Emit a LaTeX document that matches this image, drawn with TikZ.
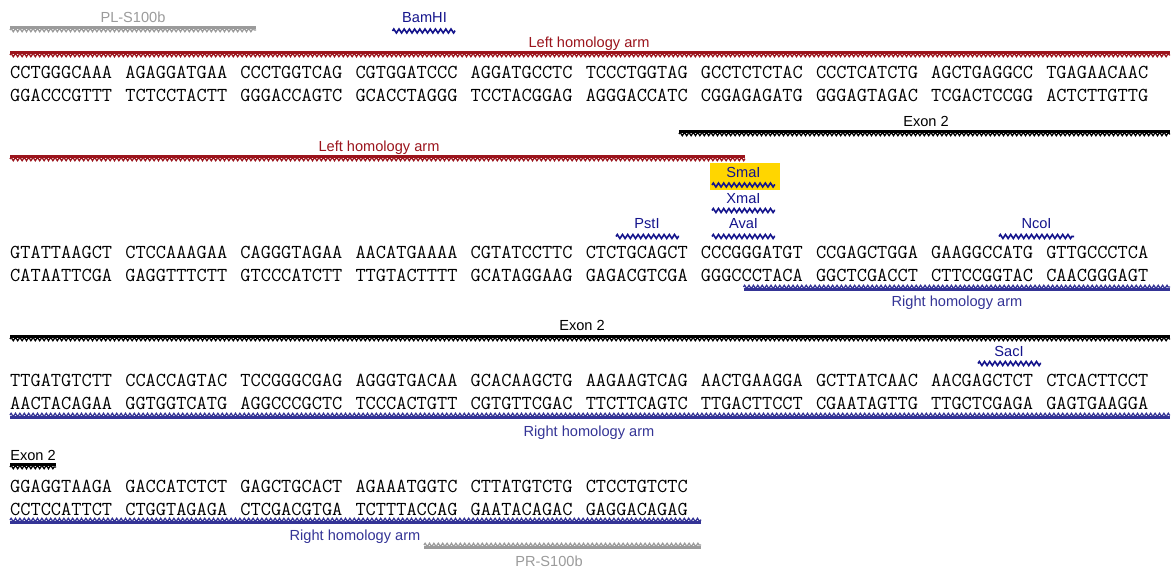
\documentclass[tikz,border=0pt]{standalone}
\usepackage{fontspec}
\setsansfont{Liberation Sans}
\usetikzlibrary{decorations.pathmorphing}
\definecolor{armred}{RGB}{155,20,28}
\definecolor{armblue}{RGB}{52,52,150}
\definecolor{enzblue}{RGB}{20,20,140}
\definecolor{primergray}{RGB}{155,155,155}
\definecolor{hilite}{RGB}{255,214,0}
\newcommand{\sgap}{\hspace{13.15pt}}
\tikzset{
  seq/.style={anchor=base west, inner sep=0pt, font=\fontsize{19.8}{22}\selectfont\ttfamily},
  lbl/.style={anchor=base, inner sep=0pt, font=\fontsize{14.6}{16}\selectfont\sffamily},
  bar/.style={line width=3pt},
  teeth/.style={decorate, decoration={zigzag, segment length=4.4pt, amplitude=1.7pt}, line width=1.3pt},
  cut/.style={enzblue, decorate, decoration={zigzag, segment length=5.2pt, amplitude=2pt}, line width=1.6pt}
}
\begin{document}
\begin{tikzpicture}[x=1pt, y=-1pt]
  \useasboundingbox (0,0) rectangle (1176,569);
  \fill[white] (0,0) rectangle (1176,569);

  % block 1
  \draw[primergray, bar] (10,27.5) -- (256,27.5);
  \draw[primergray, teeth] (10,30) -- (256,30);
  \node[lbl, primergray] (plS) at (133,23) {PL-S100b};
  \draw[cut] (392.5,31) -- (455,31);
  \node[lbl, enzblue] (bamhi) at (424.5,23) {BamHI};
  \draw[armred, bar] (10,52.5) -- (1170,52.5);
  \draw[armred, teeth] (10,55) -- (1170,55);
  \node[lbl, armred] (larmA) at (589,48) {Left homology arm};
  \node[seq] (topA) at (10,79) {CCTGGGCAAA\sgap AGAGGATGAA\sgap CCCTGGTCAG\sgap CGTGGATCCC\sgap AGGATGCCTC\sgap TCCCTGGTAG\sgap GCCTCTCTAC\sgap CCCTCATCTG\sgap AGCTGAGGCC\sgap TGAGAACAAC};
  \node[seq] (botA) at (10,101.5) {GGACCCGTTT\sgap TCTCCTACTT\sgap GGGACCAGTC\sgap GCACCTAGGG\sgap TCCTACGGAG\sgap AGGGACCATC\sgap CGGAGAGATG\sgap GGGAGTAGAC\sgap TCGACTCCGG\sgap ACTCTTGTTG};

  % block 2
  \node[lbl] (exonB) at (926,127) {Exon 2};
  \draw[black, bar] (679,131.5) -- (1170,131.5);
  \draw[black, teeth] (679,134) -- (1170,134);
  \node[lbl, armred] (larmB) at (379,152) {Left homology arm};
  \draw[armred, bar] (10,156.5) -- (745,156.5);
  \draw[armred, teeth] (10,159) -- (745,159);
  \fill[hilite] (709.5,162.7) rectangle (780,190);
  \node[lbl, enzblue] (smai) at (743.5,178) {SmaI};
  \draw[cut] (712,185) -- (775,185);
  \node[lbl, enzblue] (xmai) at (743.5,204) {XmaI};
  \draw[cut] (712,210.5) -- (775,210.5);
  \node[lbl, enzblue] (psti) at (647,229) {PstI};
  \draw[cut] (616,236.5) -- (679,236.5);
  \node[lbl, enzblue] (avai) at (743.5,229) {AvaI};
  \draw[cut] (712,236.5) -- (775,236.5);
  \node[lbl, enzblue] (ncoi) at (1036.5,229) {NcoI};
  \draw[cut] (999,236.5) -- (1074,236.5);
  \node[seq] (topB) at (10,259) {GTATTAAGCT\sgap CTCCAAAGAA\sgap CAGGGTAGAA\sgap AACATGAAAA\sgap CGTATCCTTC\sgap CTCTGCAGCT\sgap CCCGGGATGT\sgap CCGAGCTGGA\sgap GAAGGCCATG\sgap GTTGCCCTCA};
  \node[seq] (botB) at (10,281.5) {CATAATTCGA\sgap GAGGTTTCTT\sgap GTCCCATCTT\sgap TTGTACTTTT\sgap GCATAGGAAG\sgap GAGACGTCGA\sgap GGGCCCTACA\sgap GGCTCGACCT\sgap CTTCCGGTAC\sgap CAACGGGAGT};
  \draw[armblue, teeth] (743.5,287) -- (1170,287);
  \draw[armblue, bar] (743.5,289.5) -- (1170,289.5);
  \node[lbl, armblue] (rarmB) at (957,307) {Right homology arm};

  % block 3
  \node[lbl] (exonC) at (582,331) {Exon 2};
  \draw[black, bar] (10,336.5) -- (1170,336.5);
  \draw[black, teeth] (10,339) -- (1170,339);
  \node[lbl, enzblue] (saci) at (1009,357) {SacI};
  \draw[cut] (978,363.5) -- (1041,363.5);
  \node[seq] (topC) at (10,387) {TTGATGTCTT\sgap CCACCAGTAC\sgap TCCGGGCGAG\sgap AGGGTGACAA\sgap GCACAAGCTG\sgap AAGAAGTCAG\sgap AACTGAAGGA\sgap GCTTATCAAC\sgap AACGAGCTCT\sgap CTCACTTCCT};
  \node[seq] (botC) at (10,409.5) {AACTACAGAA\sgap GGTGGTCATG\sgap AGGCCCGCTC\sgap TCCCACTGTT\sgap CGTGTTCGAC\sgap TTCTTCAGTC\sgap TTGACTTCCT\sgap CGAATAGTTG\sgap TTGCTCGAGA\sgap GAGTGAAGGA};
  \draw[armblue, teeth] (10,415) -- (1170,415);
  \draw[armblue, bar] (10,417.5) -- (1170,417.5);
  \node[lbl, armblue] (rarmC) at (589,436) {Right homology arm};

  % block 4
  \node[lbl] (exonD) at (33,460) {Exon 2};
  \draw[black, bar] (10,464.5) -- (56,464.5);
  \draw[black, teeth] (10,467) -- (56,467);
  \node[seq] (topD) at (10,492.5) {GGAGGTAAGA\sgap GACCATCTCT\sgap GAGCTGCACT\sgap AGAAATGGTC\sgap CTTATGTCTG\sgap CTCCTGTCTC};
  \node[seq] (botD) at (10,515) {CCTCCATTCT\sgap CTGGTAGAGA\sgap CTCGACGTGA\sgap TCTTTACCAG\sgap GAATACAGAC\sgap GAGGACAGAG};
  \draw[armblue, teeth] (10,520) -- (701,520);
  \draw[armblue, bar] (10,522.5) -- (701,522.5);
  \node[lbl, armblue] (rarmD) at (355,540) {Right homology arm};
  \draw[primergray, teeth] (424,545) -- (701,545);
  \draw[primergray, bar] (424,547.5) -- (701,547.5);
  \node[lbl, primergray] (prS) at (549,566) {PR-S100b};
\end{tikzpicture}
\end{document}
